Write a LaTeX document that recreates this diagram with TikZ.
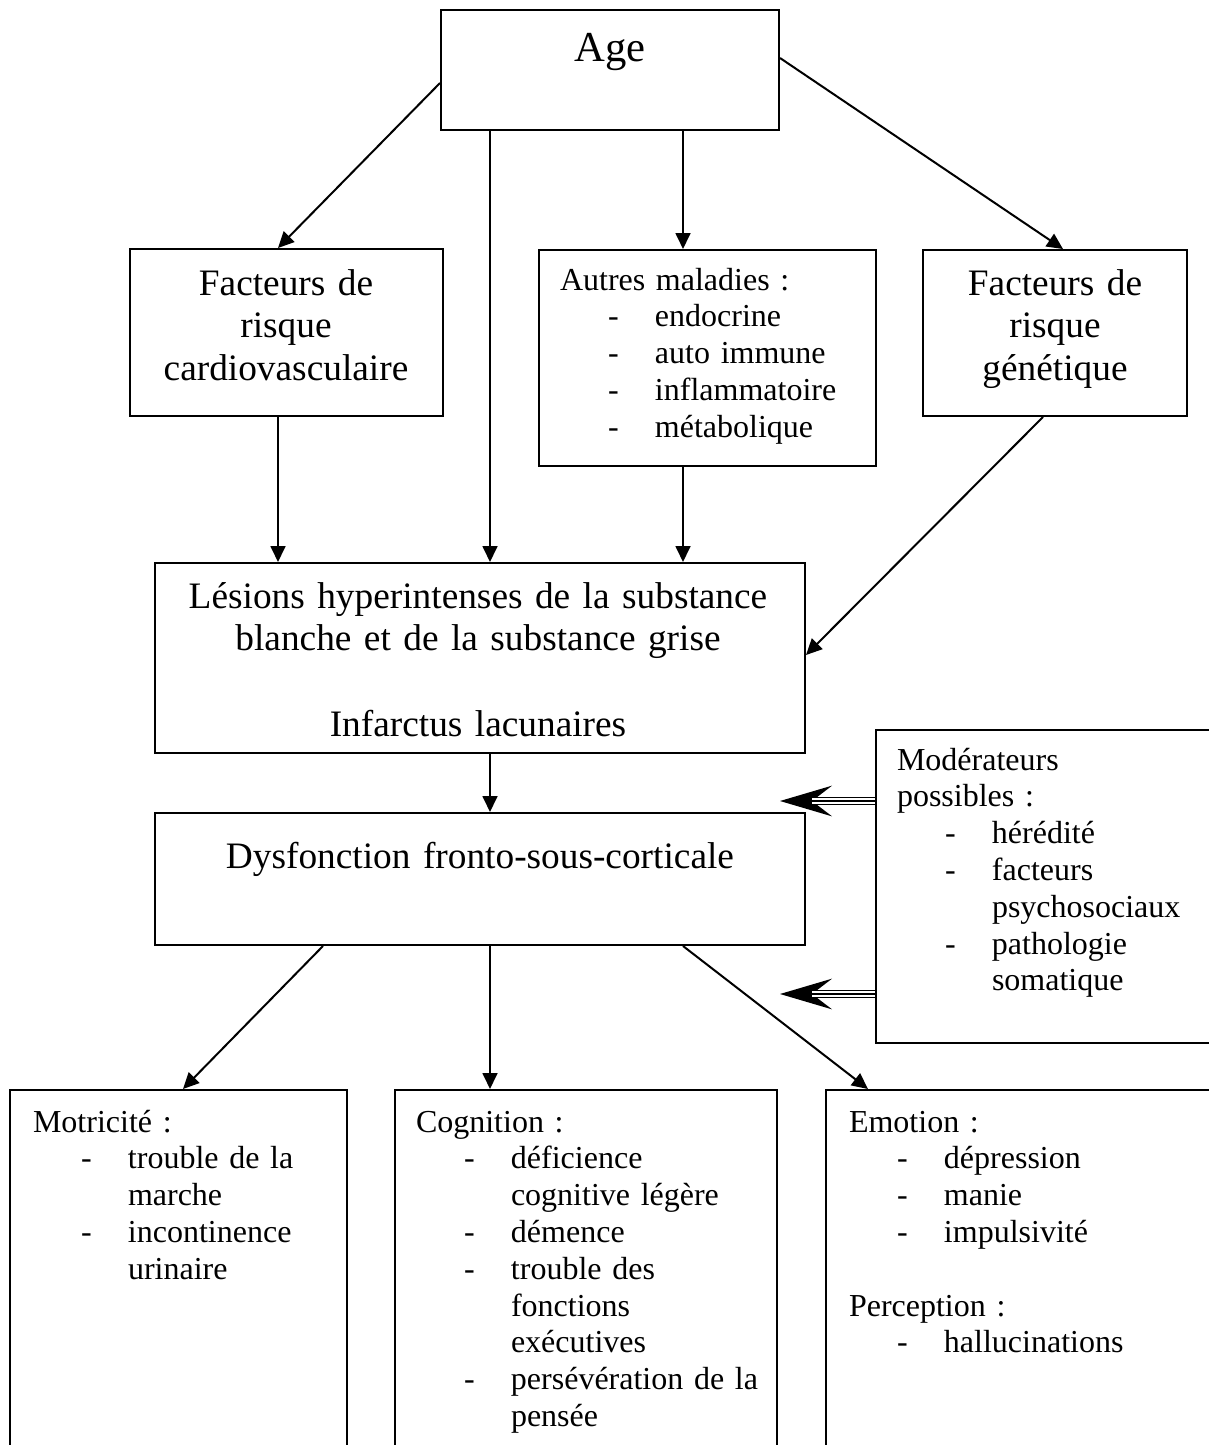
\documentclass[tikz,border=0pt]{standalone}
\usepackage{fontspec}
\setmainfont{Liberation Serif}
\usetikzlibrary{arrows.meta,fit}
\newdimen\pxu \pxu=0.375pt
\newcommand{\itm}[1]{\hspace*{48\pxu}\makebox[47\pxu][l]{-}#1}
\newcommand{\cnt}[1]{\hspace*{95\pxu}#1}

\begin{document}
\begin{tikzpicture}[x=0.375pt,y=-0.375pt,->,>={Triangle[length=6pt,width=5.6pt]},line width=0.75pt]
    \tikzstyle{box}=[draw=black, rectangle, inner sep=0pt, fill=none]
    \tikzstyle{lab}=[inner sep=0pt, anchor=base, align=center, text width=236pt, font=\fontsize{14}{16.1}\selectfont]
    \tikzstyle{lst}=[inner sep=0pt, anchor=base west, align=left, text width=160pt, font=\fontsize{12}{13.8}\selectfont]
    \tikzstyle{modtip}=[-{Stealth[length=19.5pt,width=11.5pt,inset=7.5pt]}]
    \tikzstyle{triple}=[-, line width=0.5pt, double=white, double distance=2.2pt]

    \useasboundingbox (0,0) rectangle (1209,1445);
    \clip (0,0) rectangle (1209,1445);

    \node[box, fit={(441,10) (779,130)}]    (age)     {};
    \node[lab, font=\fontsize{16}{18.4}\selectfont] (age-t) at (610,62) {Age};
    \node[box, fit={(130,249) (443,416)}]   (cardio)  {};
    \node[lab] (cardio-t)  at (286,295)  {Facteurs de\\risque\\cardiovasculaire};
    \node[box, fit={(539,250) (876,466)}]   (autres)  {};
    \node[lst] (autres-t)  at (559,290)  {Autres maladies :\\\itm{endocrine}\\\itm{auto immune}\\\itm{inflammatoire}\\\itm{métabolique}};
    \node[box, fit={(923,250) (1187,416)}]  (genet)   {};
    \node[lab] (genet-t)   at (1055,295) {Facteurs de\\risque\\génétique};
    \node[box, fit={(155,563) (805,753)}]   (lesions) {};
    \node[lab] (lesions-t) at (478,608)  {Lésions hyperintenses de la substance\\blanche et de la substance grise\\ \mbox{}\\Infarctus lacunaires};
    \node[box, fit={(155,813) (805,945)}]   (dysf)    {};
    \node[lab] (dysf-t)    at (480,868)  {Dysfonction fronto-sous-corticale};
    \node[box, fit={(876,730) (1240,1043)}] (moder)   {};
    \node[lst] (moder-t)   at (896,770)  {Modérateurs\\possibles :\\\itm{hérédité}\\\itm{facteurs}\\\cnt{psychosociaux}\\\itm{pathologie}\\\cnt{somatique}};
    \node[box, fit={(10,1090) (347,1470)}]  (motr)    {};
    \node[lst] (motr-t)    at (32,1132)  {Motricité :\\\itm{trouble de la}\\\cnt{marche}\\\itm{incontinence}\\\cnt{urinaire}};
    \node[box, fit={(395,1090) (777,1470)}] (cogn)    {};
    \node[lst] (cogn-t)    at (415,1132) {Cognition :\\\itm{déficience}\\\cnt{cognitive légère}\\\itm{démence}\\\itm{trouble des}\\\cnt{fonctions}\\\cnt{exécutives}\\\itm{persévération de la}\\\cnt{pensée}};
    \node[box, fit={(826,1090) (1240,1470)}] (emot)   {};
    \node[lst] (emot-t)    at (848,1132) {Emotion :\\\itm{dépression}\\\itm{manie}\\\itm{impulsivité}\\ \mbox{}\\Perception :\\\itm{hallucinations}};

    \path
     (age.west |- 0,83)      edge (cardio.north -| 278,0)
     (age.south -| 490,0)    edge (lesions.north -| 490,0)
     (age.south -| 683,0)    edge (autres.north -| 683,0)
     (age.east |- 0,58)      edge (genet.north -| 1063,0)
     (cardio.south -| 278,0) edge (lesions.north -| 278,0)
     (autres.south -| 683,0) edge (lesions.north -| 683,0)
     (genet.south -| 1043,0) edge (lesions.east |- 0,655)
     (lesions.south -| 490,0) edge (dysf.north -| 490,0)
     (dysf.south -| 323,0)   edge (motr.north -| 183,0)
     (dysf.south -| 490,0)   edge (cogn.north -| 490,0)
     (dysf.south -| 683,0)   edge (emot.north -| 868,0)
     ;

    % moderators
    \coordinate (tipA)   at (780,801);
    \coordinate (tipB)   at (780,994);
    \coordinate (shaftA) at (812,801);
    \coordinate (shaftB) at (812,994);
    \draw[modtip] (moder.west |- tipA) -- (tipA);
    \draw[modtip] (moder.west |- tipB) -- (tipB);
    \draw[triple] (moder.west |- tipA) -- (shaftA);
    \draw[triple] (moder.west |- tipB) -- (shaftB);
    \draw[-, line width=1.1pt] (moder.west |- tipA) -- (shaftA);
    \draw[-, line width=1.1pt] (moder.west |- tipB) -- (shaftB);
\end{tikzpicture}
\end{document}
